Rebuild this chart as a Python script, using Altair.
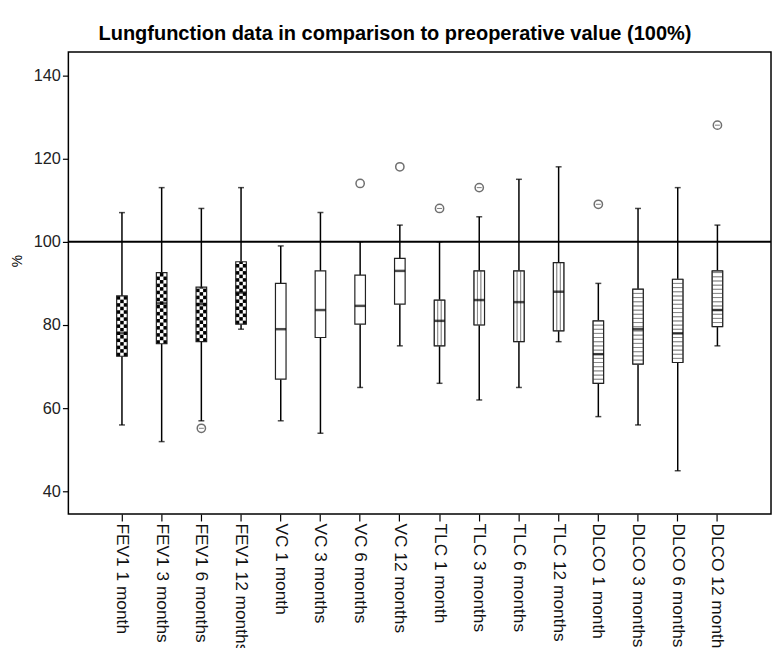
import altair as alt
import pandas as pd

categories = ["FEV1 1 month", "FEV1 3 months", "FEV1 6 months", "FEV1 12 months",
              "VC 1 month", "VC 3 months", "VC 6 months", "VC 12 months",
              "TLC 1 month", "TLC 3 months", "TLC 6 months", "TLC 12 months",
              "DLCO 1 month", "DLCO 3 months", "DLCO 6 months", "DLCO 12 months"]
whisker_low = [56, 52, 57, 79, 57, 54, 65, 75, 66, 62, 65, 76, 58, 56, 45, 75]
q1 = [72.5, 75.5, 76, 80.2, 67, 77, 80.2, 85, 75, 80, 76, 78.6, 66, 70.6, 71, 79.6]
medians = [78, 85.2, 85, 87.8, 79, 83.6, 84.6, 93, 81, 86, 85.5, 88, 73, 79, 78, 83.6]
q3 = [87, 92.6, 89.1, 95.2, 90, 93, 92, 96, 86, 93, 93, 95, 81, 88.6, 91, 93]
whisker_high = [107, 113, 108, 113, 99, 107, 100, 104, 100, 106, 115, 118, 90, 108, 113, 104]
patterns = ["checker"] * 4 + ["plain"] * 4 + ["vstripe"] * 4 + ["hstripe"] * 4

outlier_cats = ["FEV1 6 months", "VC 6 months", "VC 12 months", "TLC 1 month",
                "TLC 3 months", "DLCO 1 month", "DLCO 12 months"]
outlier_vals = [55.2, 114, 118, 108, 113, 109, 128]
outlier_mark = [True, False, False, True, True, True, True]

title_text = "Lungfunction data in comparison to preoperative value (100%)"
y_ticks = [40, 60, 80, 100, 120, 140]

box_df = pd.DataFrame(dict(cat=categories, lo=whisker_low, q1=q1, med=medians,
                           q3=q3, hi=whisker_high, pattern=patterns))
out_df = pd.DataFrame(dict(cat=outlier_cats, val=outlier_vals, mark=outlier_mark))

# pattern cells derived from the quartiles
checker_rows, vcols, hrows = [], [], []
for c, a, b, p in zip(categories, q1, q3, patterns):
    if p == "checker":
        y, r = a, 0
        while y < b - 1e-9:
            y2 = min(y + 0.85, b)
            for col in range(3):
                if (r + col) % 2 == 0:
                    checker_rows.append(dict(cat=c, col=col, y0=y, y1=y2))
            y, r = y2, r + 1
    elif p == "vstripe":
        for col in range(3):
            vcols.append(dict(cat=c, col=col, y0=a, y1=b))
    elif p == "hstripe":
        y = a
        while y < b - 1e-9:
            y2 = min(y + 1.0, b)
            hrows.append(dict(cat=c, y0=y, y1=y2))
            y = y2
checker_df = pd.DataFrame(checker_rows)
vcol_df = pd.DataFrame(vcols)
hrow_df = pd.DataFrame(hrows)

FONT = "Liberation Sans"
BOXW = 10.7

x_enc = alt.X("cat:N", sort=categories,
              scale=alt.Scale(paddingInner=0, paddingOuter=0.85),
              axis=alt.Axis(title=None, labelAngle=90, labelFontSize=17.5, labelFont=FONT,
                            labelColor="#111", tickColor="black", tickSize=7,
                            tickWidth=1.2, domain=False, labelPadding=2))
yscale = alt.Scale(domain=[34.6, 145.6], nice=False, zero=False)
y_axis = alt.Axis(title="%", values=y_ticks, labelFontSize=16.5, labelFont=FONT,
                  labelColor="#222", tickColor="black", tickSize=6, tickWidth=1.2,
                  domain=False, grid=False, labelPadding=2, titleFont=FONT,
                  titleFontSize=14, titleFontWeight="normal", titleColor="black",
                  titlePadding=9, titleY=211)
xoff = alt.XOffset("col:O", scale=alt.Scale(domain=[0, 1, 2], range=[14.7, 25.4],
                                             paddingInner=0, paddingOuter=0))

base = alt.Chart(box_df)
wl = base.mark_rule(color="black", strokeWidth=1.5).encode(
    x=x_enc, y=alt.Y("lo:Q", scale=yscale, axis=y_axis), y2="q1:Q")
wh = base.mark_rule(color="black", strokeWidth=1.5).encode(
    x=x_enc, y=alt.Y("q3:Q", scale=yscale), y2="hi:Q")
ref = alt.Chart(pd.DataFrame({"v": [100]})).mark_rule(color="black", strokeWidth=2).encode(
    y=alt.Y("v:Q", scale=yscale))
boxfill = base.mark_bar(size=BOXW, fill="white").encode(
    x=x_enc, y=alt.Y("q1:Q", scale=yscale), y2="q3:Q")
checker = alt.Chart(checker_df).mark_bar(fill="black").encode(
    x=x_enc, xOffset=xoff, y=alt.Y("y0:Q", scale=yscale), y2="y1:Q")
vstripe = alt.Chart(vcol_df).mark_bar(fill="white", stroke="#888", strokeWidth=1).encode(
    x=x_enc, xOffset=xoff, y=alt.Y("y0:Q", scale=yscale), y2="y1:Q")
hstripe = alt.Chart(hrow_df).mark_bar(size=BOXW, fill="white", stroke="#888",
                                     strokeWidth=1).encode(
    x=x_enc, y=alt.Y("y0:Q", scale=yscale), y2="y1:Q")
outline = base.mark_bar(size=BOXW, fillOpacity=0, stroke="#222", strokeWidth=1.2).encode(
    x=x_enc, y=alt.Y("q1:Q", scale=yscale), y2="q3:Q")
med = base.mark_tick(size=BOXW, thickness=2.5, color="black").encode(
    x=x_enc, y=alt.Y("med:Q", scale=yscale))
cap_lo = base.mark_tick(size=6, thickness=1.5, color="black").encode(
    x=x_enc, y=alt.Y("lo:Q", scale=yscale))
cap_hi = base.mark_tick(size=6, thickness=1.5, color="black").encode(
    x=x_enc, y=alt.Y("hi:Q", scale=yscale))
outl = alt.Chart(out_df).mark_point(shape="circle", size=70, filled=False,
                                    color="#333", strokeWidth=1.5).encode(
    x=x_enc, y=alt.Y("val:Q", scale=yscale))
outl_in = alt.Chart(out_df).transform_filter("datum.mark").mark_tick(
    size=5, thickness=1, color="#444").encode(
    x=x_enc, y=alt.Y("val:Q", scale=yscale))

chart = alt.layer(wl, wh, ref, boxfill, checker, vstripe, hstripe, outline, med,
                  cap_lo, cap_hi, outl, outl_in).properties(
    width=710, height=467,
    background="white",
    title=alt.TitleParams(title_text, font=FONT, fontSize=20.2, fontWeight="bold",
                          color="black", anchor="middle", frame="group", dx=-25,
                          baseline="alphabetic", offset=-8),
    autosize=alt.AutoSizeParams(type="none"),
    padding={"left": 61, "top": 41, "right": 1, "bottom": 132},
).configure_view(stroke="black", strokeWidth=1.5)

chart.save("out.html", embed_options={"renderer": "svg", "actions": False})
